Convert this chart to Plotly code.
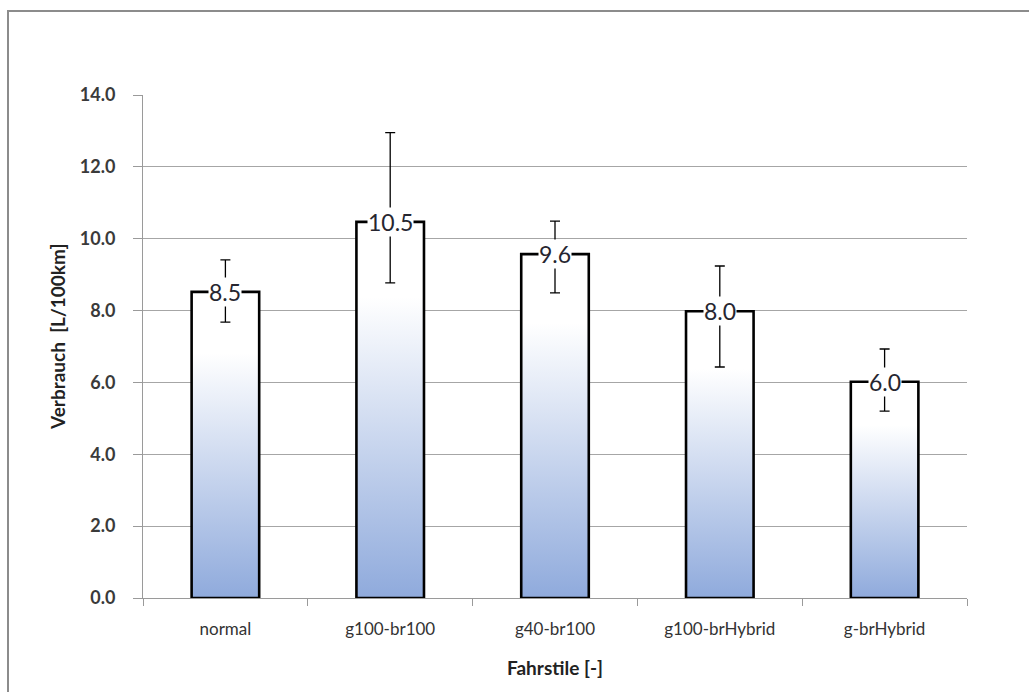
import plotly.graph_objects as go

categories = ["normal", "g100-br100", "g40-br100", "g100-brHybrid", "g-brHybrid"]
values = [8.52, 10.47, 9.57, 7.98, 6.02]
err_plus = [0.89, 2.48, 0.92, 1.26, 0.91]
err_minus = [0.84, 1.70, 1.08, 1.55, 0.82]
y_ticks = [0, 2, 4, 6, 8, 10, 12, 14]

BAR_W = 0.41
FONT = "Lato, Carlito, 'Open Sans', sans-serif"

W, H = 1029, 692
ml, mr, mt, mb = 143, 62, 95, 94
pw, ph = W - ml - mr, H - mt - mb

fig = go.Figure()

for i, v in enumerate(values):
    x0, x1 = i - BAR_W / 2, i + BAR_W / 2
    fig.add_trace(go.Scatter(
        x=[x0, x0, x1, x1, x0], y=[0, v, v, 0, 0],
        mode="lines", fill="toself",
        fillgradient=dict(type="vertical",
                          colorscale=[[0, "#8FAADC"], [0.8, "#FFFFFF"], [1, "#FFFFFF"]]),
        line=dict(color="black", width=2.6),
        hoverinfo="skip", showlegend=False,
    ))

fig.add_trace(go.Scatter(
    x=list(range(len(values))), y=values, mode="markers",
    marker=dict(size=1, color="rgba(0,0,0,0)"),
    error_y=dict(type="data", symmetric=False, array=err_plus, arrayminus=err_minus,
                 color="black", thickness=1.3, width=5),
    showlegend=False,
))

for i, v in enumerate(values):
    fig.add_annotation(x=i, y=v, text=f"{v:.1f}", showarrow=False,
                       font=dict(family=FONT, size=23, color="#262630"),
                       bgcolor="white", borderpad=0, xanchor="center", yanchor="middle")

fig.update_xaxes(
    range=[-0.5, len(values) - 0.5],
    tickvals=list(range(len(values))), ticktext=categories,
    ticks="", showgrid=False, zeroline=False,
    showline=True, linecolor="#9a9a9a", linewidth=1,
    minor=dict(ticks="outside", tick0=-0.5, dtick=1, ticklen=7, tickcolor="#9a9a9a", showgrid=False),
    tickfont=dict(family=FONT, size=17, color="#333333"),
    ticklabelstandoff=16,
)
fig.update_yaxes(
    range=[0, 14], tickvals=y_ticks, tickformat=".1f",
    ticks="outside", ticklen=9, tickcolor="#9a9a9a",
    showgrid=True, gridcolor="#a6a6a6", gridwidth=1,
    zeroline=False, showline=True, linecolor="#9a9a9a", linewidth=1,
    tickfont=dict(family=FONT, size=18, color="#3a3a3a", weight="bold"),
    ticklabelstandoff=14,
)

# axis titles
fig.add_annotation(xref="paper", yref="paper", x=(57 - ml) / pw, y=(H - mb - 337) / ph,
                   text="<b>Verbrauch  [L/100km]</b>", textangle=-90, showarrow=False,
                   font=dict(family=FONT, size=19, color="#222222"),
                   xanchor="center", yanchor="middle")
fig.add_annotation(xref="paper", yref="paper", x=(555 - ml) / pw, y=-(667 - (H - mb)) / ph,
                   text="<b>Fahrstile [-]</b>", showarrow=False,
                   font=dict(family=FONT, size=19, color="#222222"),
                   xanchor="center", yanchor="middle")

# chart-area border
fig.add_shape(type="rect", xref="paper", yref="paper",
              x0=(8 - ml) / pw, x1=(W + 10 - ml) / pw,
              y0=-(H + 10 - (H - mb)) / ph, y1=(H - mb - 11) / ph,
              line=dict(color="#8c8c8c", width=2), fillcolor="rgba(0,0,0,0)", layer="below")

fig.update_layout(
    width=W, height=H,
    margin=dict(l=ml, r=mr, t=mt, b=mb),
    paper_bgcolor="white", plot_bgcolor="white",
    showlegend=False,
)

fig.write_html("out.html", config={"displayModeBar": False},
               post_script="document.body.style.margin='0';")
